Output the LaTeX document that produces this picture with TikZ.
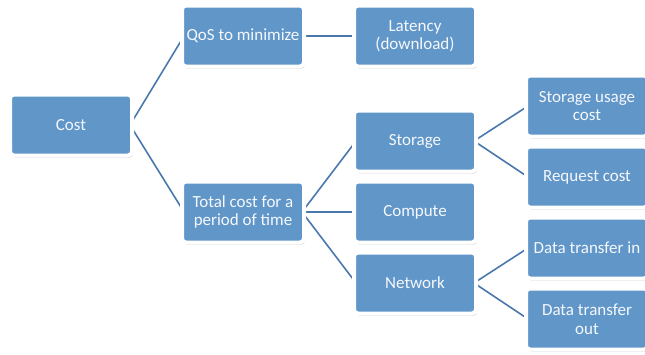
\documentclass[tikz,border=0pt]{standalone}
\usepackage{fontspec}
\setmainfont{Carlito}
\usetikzlibrary{shadows}
\definecolor{boxblue}{RGB}{97,150,201}
\definecolor{linkblue}{RGB}{74,120,172}
\definecolor{txtwhite}{RGB}{245,248,252}
\tikzset{
  box/.style={rectangle, rounded corners=4pt, fill=boxblue, draw=white, line width=4pt,
    minimum width=122pt, minimum height=61pt, inner sep=1pt, align=center,
    text=txtwhite, font=\fontsize{17}{18.5}\selectfont,
    drop shadow={shadow xshift=1.2pt, shadow yshift=-2pt, fill=black, opacity=0.28}},
  link/.style={draw=linkblue, line width=1.6pt}
}
\begin{document}
\begin{tikzpicture}[x=1pt,y=-1pt]
\useasboundingbox (0,0) rectangle (645,354);
\clip (0,0) rectangle (645,354);
% connectors first
\coordinate (cR) at (130,125);
\coordinate (qL) at (184,36);
\coordinate (qR) at (302,36);
\coordinate (lL) at (356,36);
\coordinate (tL) at (184,212);
\coordinate (tR) at (302,212);
\coordinate (sL) at (356,141);
\coordinate (sR) at (474,141);
\coordinate (cpL) at (356,212);
\coordinate (nL) at (356,283);
\coordinate (nR) at (474,283);
\coordinate (suL) at (528,106);
\coordinate (rqL) at (528,177);
\coordinate (diL) at (528,248);
\coordinate (doL) at (528,319);
\draw[link] (qL) -- (cR) -- (tL);
\draw[link] (qR) -- (lL);
\draw[link] (sL) -- (tR) -- (nL);
\draw[link] (tR) -- (cpL);
\draw[link] (suL) -- (sR) -- (rqL);
\draw[link] (diL) -- (nR) -- (doL);
% boxes
\node[box] (cost) at (71,125) {Cost};
\node[box] (qos) at (243,36) {QoS to minimize};
\node[box] (lat) at (415,36) {Latency\\(download)};
\node[box] (total) at (243,212) {Total cost for a\\period of time};
\node[box] (stor) at (415,141) {Storage};
\node[box] (comp) at (415,212) {Compute};
\node[box] (net) at (415,283) {Network};
\node[box] (suc) at (587,106) {Storage usage\\cost};
\node[box] (req) at (587,177) {Request cost};
\node[box] (dtin) at (587,248) {Data transfer in};
\node[box] (dtout) at (587,319) {Data transfer\\out};
\end{tikzpicture}
\end{document}
